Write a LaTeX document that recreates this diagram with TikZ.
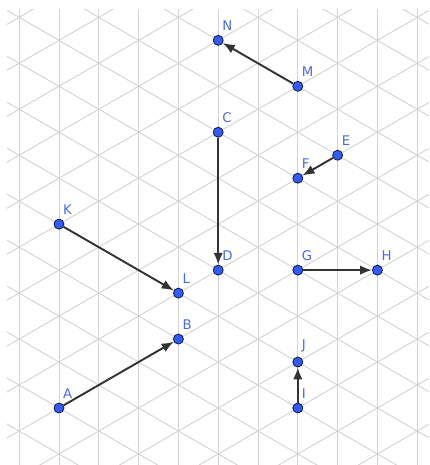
\documentclass[tikz,border=0pt]{standalone}
\usepackage{fontspec}
\setmainfont{DejaVu Sans}
\usetikzlibrary{arrows.meta}
\definecolor{ptblue}{RGB}{52,92,240}
\definecolor{ptedge}{RGB}{20,30,90}
\definecolor{lblblue}{RGB}{72,108,222}
\definecolor{gridgray}{RGB}{212,212,212}
\definecolor{vecgray}{RGB}{51,51,51}
\begin{document}
\begin{tikzpicture}[x=0.8cm, y=0.46188cm,
  pt/.style={circle, draw=ptedge, line width=0.5pt, fill=ptblue, inner sep=0pt, minimum size=0.2cm},
  lbl/.style={text=lblblue, font=\fontsize{7.6}{8}\selectfont, inner sep=0pt, yshift=3pt},
  gr/.style={draw=gridgray, line width=0.55pt},
  vec/.style={draw=vecgray, line width=1.1pt, -{Latex[length=2.4mm,width=1.9mm]}}]
\useasboundingbox (-1.482,-2.48) rectangle (9.296,17.755);
\begin{scope}
\clip (-1.307,-2.48) rectangle (9.296,17.36);
\foreach \c in {-1,...,9} \draw[gr] (\c,-3) -- (\c,18);
\foreach \k in {-8,...,16} {
  \draw[gr] (-2,-2+2*\k) -- (10,10+2*\k);
  \draw[gr] (-2,2+2*\k) -- (10,-10+2*\k);
}
\end{scope}
\node[pt, label={[lbl]above right:A}] (A) at (0,0) {};
\node[pt, label={[lbl]above right:B}] (B) at (3,3) {};
\node[pt, label={[lbl]above right:C}] (C) at (4,12) {};
\node[pt, label={[lbl]above right:D}] (D) at (4,6) {};
\node[pt, label={[lbl]above right:E}] (E) at (7,11) {};
\node[pt, label={[lbl]above right:F}] (F) at (6,10) {};
\node[pt, label={[lbl]above right:G}] (G) at (6,6) {};
\node[pt, label={[lbl]above right:H}] (H) at (8,6) {};
\node[pt, label={[lbl]above right:I}] (I) at (6,0) {};
\node[pt, label={[lbl]above right:J}] (J) at (6,2) {};
\node[pt, label={[lbl]above right:K}] (K) at (0,8) {};
\node[pt, label={[lbl]above right:L}] (L) at (3,5) {};
\node[pt, label={[lbl]above right:M}] (M) at (6,14) {};
\node[pt, label={[lbl]above right:N}] (N) at (4,16) {};
\draw[vec] (A)--(B); \draw[vec] (C)--(D); \draw[vec] (E)--(F);
\draw[vec] (G)--(H); \draw[vec] (I)--(J); \draw[vec] (K)--(L);
\draw[vec] (M)--(N);
\end{tikzpicture}
\end{document}
